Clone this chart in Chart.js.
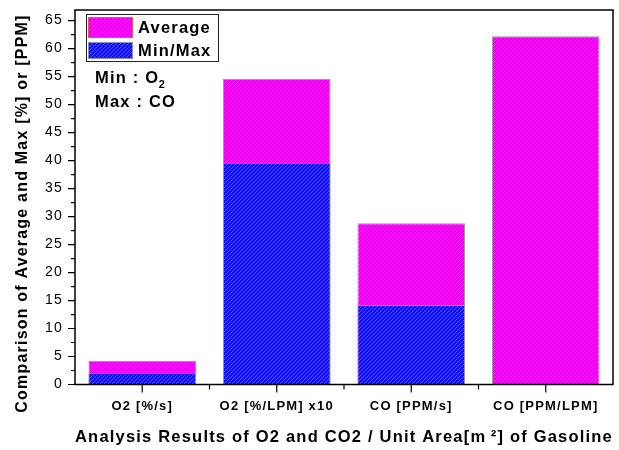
<!DOCTYPE html>
<html>
<head>
<meta charset="utf-8">
<script src="https://cdn.jsdelivr.net/npm/chart.js@4.4.1/dist/chart.umd.min.js"></script>
<style>
  html, body { margin: 0; padding: 0; background: #fff; }
  canvas { display: block; }
</style>
</head>
<body>
<canvas id="chart" width="619" height="450"></canvas>
<script>
// Measured results per unit area of gasoline
const categories = ['O2 [%/s]', 'O2 [%/LPM] x10', 'CO [PPM/s]', 'CO [PPM/LPM]'];
const averageValues = [4.2, 54.6, 28.8, 62.2];
const minMaxValues = [2.1, 39.6, 14.2, null];
const yTickValues = [0, 5, 10, 15, 20, 25, 30, 35, 40, 45, 50, 55, 60, 65];
const yAxisMax = 66.9;
const seriesNames = ['Average', 'Min/Max'];
const xAxisTitle = 'Analysis Results of O2 and CO2 / Unit Area[m\u2009\u00B2] of Gasoline';
const yAxisTitle = 'Comparison of Average and Max [%] or [PPM]';
const notes = [['Min : O', '2'], ['Max : CO', '']];

const FONT = "'Liberation Sans', Arial, sans-serif";

// Diagonal hatch fill used for both series
function hatch(base, line) {
  const s = 4;
  const c = document.createElement('canvas');
  c.width = s; c.height = s;
  const g = c.getContext('2d');
  g.fillStyle = base;
  g.fillRect(0, 0, s, s);
  g.strokeStyle = line;
  g.lineWidth = 1;
  g.beginPath();
  g.moveTo(-1, s + 1); g.lineTo(s + 1, -1);
  g.moveTo(-1, 1); g.lineTo(1, -1);
  g.moveTo(s - 1, s + 1); g.lineTo(s + 1, s - 1);
  g.stroke();
  return g.createPattern(c, 'repeat');
}

const magentaFill = hatch('#f000f0', 'rgba(150,150,150,0.55)');
const blueFill = hatch('#1212f2', 'rgba(130,130,230,0.6)');

// Frame, tick marks, legend box and notes
const decorations = {
  id: 'decorations',
  beforeDraw(chart) {
    chart.ctx.letterSpacing = '1.2px';
  },
  afterDraw(chart) {
    const { ctx, chartArea: a, scales: { x, y } } = chart;
    ctx.save();
    ctx.strokeStyle = '#000';
    ctx.lineWidth = 1.5;
    ctx.strokeRect(a.left, a.top, a.right - a.left, a.bottom - a.top);

    // y ticks: major at labels, minor half-way
    ctx.lineWidth = 1.2;
    ctx.beginPath();
    yTickValues.forEach((v) => {
      const py = y.getPixelForValue(v);
      ctx.moveTo(a.left - 7, py); ctx.lineTo(a.left, py);
      const mid = v + 2.5;
      if (mid < yAxisMax) {
        const pm = y.getPixelForValue(mid);
        ctx.moveTo(a.left - 4, pm); ctx.lineTo(a.left, pm);
      }
    });
    // x ticks: major at category centres, minor on boundaries
    categories.forEach((c, i) => {
      const px = x.getPixelForValue(i);
      ctx.moveTo(px, a.bottom); ctx.lineTo(px, a.bottom + 8);
      if (i > 0) {
        const pb = (x.getPixelForValue(i - 1) + px) / 2;
        ctx.moveTo(pb, a.bottom); ctx.lineTo(pb, a.bottom + 5);
      }
    });
    ctx.stroke();

    // y axis title
    ctx.fillStyle = '#000';
    ctx.font = 'bold 16px ' + FONT;
    ctx.letterSpacing = '1.2px';
    ctx.textAlign = 'center';
    ctx.textBaseline = 'middle';
    ctx.save();
    ctx.translate(22.5, 213.5);
    ctx.rotate(-Math.PI / 2);
    ctx.fillText(yAxisTitle, 0, 0);
    ctx.restore();

    // legend
    const lx = a.left + 11, ly = a.top + 4;
    ctx.lineWidth = 1;
    ctx.strokeStyle = '#222';
    ctx.strokeRect(lx + 0.5, ly + 0.5, 132, 47);
    const ds = chart.data.datasets;
    const rows = [{ y: ly + 3, h: 20 }, { y: ly + 28, h: 16 }];
    [0, 1].forEach((d, r) => {
      const row = rows[r];
      ctx.fillStyle = ds[d].backgroundColor;
      ctx.fillRect(lx + 2.5, row.y + 0.5, 44, row.h);
      ctx.strokeStyle = ds[d].legendBorder;
      ctx.strokeRect(lx + 2.5, row.y + 0.5, 44, row.h);
      ctx.fillStyle = '#000';
      ctx.font = 'bold 16.5px ' + FONT;
      ctx.textAlign = 'left';
      ctx.textBaseline = 'middle';
      ctx.fillText(ds[d].label, lx + 52, row.y + row.h / 2 + 1);
    });

    // notes
    notes.forEach((n, i) => {
      const ty = a.top + 73 + i * 24;
      ctx.font = 'bold 16.5px ' + FONT;
      ctx.textAlign = 'left';
      ctx.textBaseline = 'alphabetic';
      ctx.fillText(n[0], a.left + 20, ty);
      if (n[1]) {
        const w = ctx.measureText(n[0]).width;
        ctx.font = 'bold 11px ' + FONT;
        ctx.fillText(n[1], a.left + 20 + w - 0.5, ty + 5);
      }
    });
    ctx.restore();
  }
};

new Chart(document.getElementById('chart'), {
  type: 'bar',
  data: {
    labels: categories,
    datasets: [
      {
        label: seriesNames[0],
        data: averageValues,
        backgroundColor: magentaFill,
        borderColor: '#9a9a9a',
        borderWidth: 1,
        legendBorder: '#f05050',
        order: 2
      },
      {
        label: seriesNames[1],
        data: minMaxValues,
        backgroundColor: blueFill,
        borderColor: '#9a9a9a',
        borderWidth: 1,
        legendBorder: '#8a8ac0',
        order: 1
      }
    ]
  },
  options: {
    responsive: false,
    animation: false,
    events: [],
    layout: { padding: { top: 10, right: 6, left: 0, bottom: 0 } },
    datasets: { bar: { categoryPercentage: 1, barPercentage: 0.8 } },
    plugins: { legend: { display: false }, tooltip: { enabled: false } },
    scales: {
      x: {
        stacked: true,
        grid: { display: true, drawOnChartArea: false, drawTicks: true, tickLength: 8, tickColor: 'rgba(0,0,0,0)' },
        border: { display: false },
        ticks: {
          padding: 6,
          color: '#000',
          autoSkip: false,
          maxRotation: 0,
          font: { family: FONT, weight: 'bold', size: 13 }
        },
        title: {
          display: true,
          text: xAxisTitle,
          color: '#000',
          font: { family: FONT, weight: 'bold', size: 16.5 },
          padding: { top: 0, bottom: 3 }
        },
        afterFit(s) {
          s.height = 65.5;
          s.paddingLeft = 0; s.paddingRight = 0;
        }
      },
      y: {
        stacked: false,
        min: 0,
        max: yAxisMax,
        grid: { display: true, drawOnChartArea: false, drawTicks: true, tickLength: 7, tickColor: 'rgba(0,0,0,0)' },
        border: { display: false },
        ticks: {
          padding: 5,
          color: '#000',
          font: { family: FONT, size: 14 }
        },
        afterBuildTicks(s) { s.ticks = yTickValues.map(v => ({ value: v })); },
        afterFit(s) {
          s.width = 75;
          s.paddingTop = 0; s.paddingBottom = 0;
        }
      }
    }
  },
  plugins: [decorations]
});
</script>
</body>
</html>
